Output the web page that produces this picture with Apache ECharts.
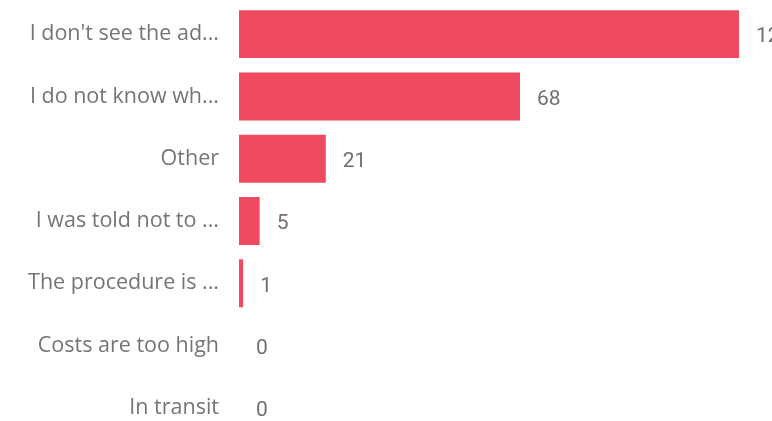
<!DOCTYPE html>
<html>
<head>
<meta charset="utf-8">
<script src="https://cdn.jsdelivr.net/npm/echarts@6/dist/echarts.min.js"></script>
<style>
  html, body { margin: 0; padding: 0; background: #fff; overflow: hidden; }
  #chart { width: 772px; height: 442px; }
</style>
</head>
<body>
<div id="chart"></div>
<script>
// reasons, top to bottom
var categories = [
  "I don't see the advantage",
  "I do not know where to go",
  "Other",
  "I was told not to apply",
  "The procedure is too complicated",
  "Costs are too high",
  "In transit"
];
var counts = [121, 68, 21, 5, 1, 0, 0];

var chart = echarts.init(document.getElementById('chart'));

var option = {
  animation: false,
  grid: {
    left: 239,
    width: 500,
    top: 3,
    height: 436
  },
  xAxis: {
    type: 'value',
    min: 0,
    max: 121,
    show: false
  },
  yAxis: {
    type: 'category',
    data: categories,
    inverse: true,
    axisLine: { show: false },
    axisTick: { show: false },
    axisLabel: {
      margin: 20,
      width: 196,
      overflow: 'truncate',
      ellipsis: '...',
      color: '#757575',
      fontSize: 21.5,
      fontFamily: 'Open Sans',
      verticalAlign: 'middle',
      lineHeight: 34,
      padding: [3, 0, 0, 0]
    }
  },
  series: [{
    type: 'bar',
    data: counts,
    barCategoryGap: '23%',
    itemStyle: { color: '#f04a60' },
    label: {
      show: true,
      position: 'right',
      distance: 17,
      offset: [0, 3],
      color: '#707070',
      fontSize: 21,
      fontFamily: 'Roboto'
    }
  }]
};

chart.setOption(option);
</script>
</body>
</html>
